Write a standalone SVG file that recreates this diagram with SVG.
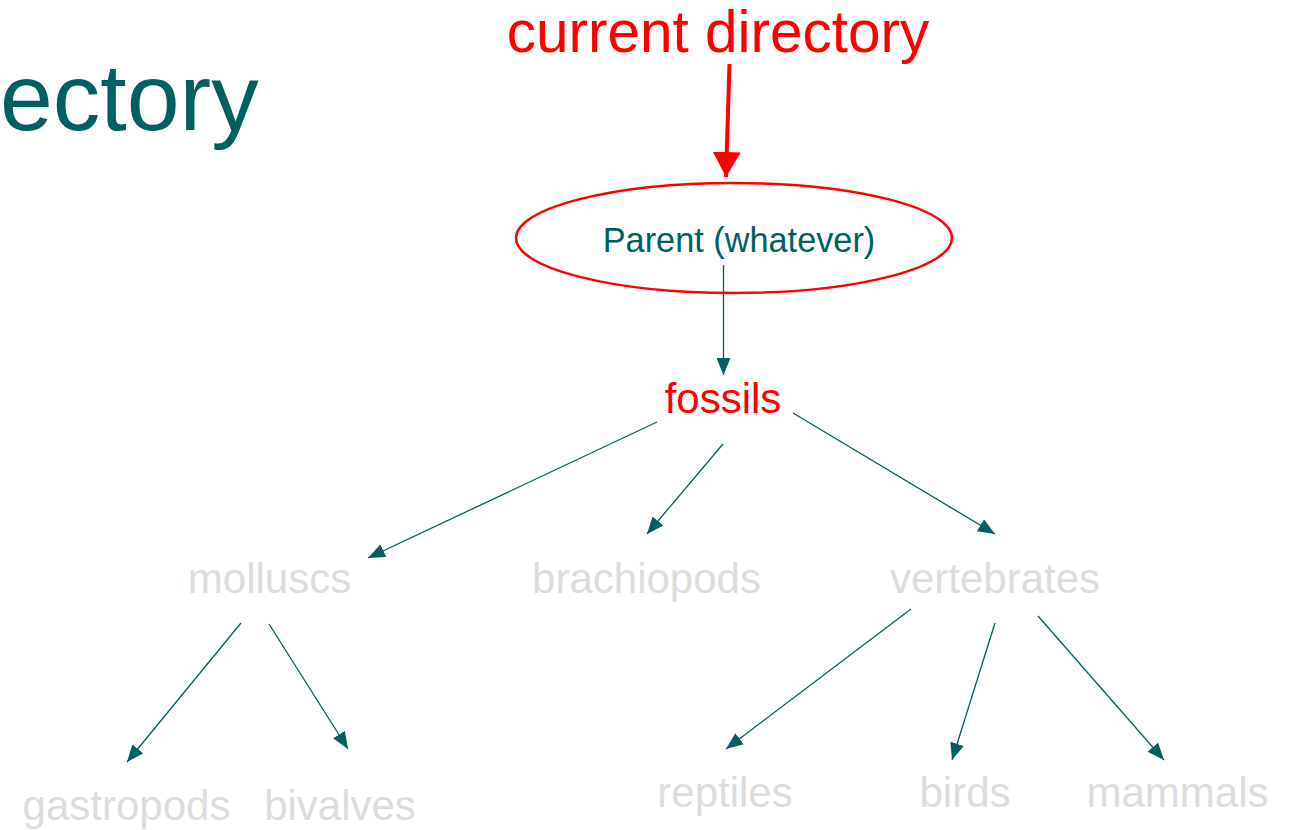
<svg xmlns="http://www.w3.org/2000/svg" width="1289" height="830" viewBox="0 0 1289 830">
<style>
  text { font-family: "Liberation Sans", Arial, sans-serif; }
  .teal { fill: #006060; }
  .red { fill: #ff0000; }
  .gray { fill: #dcdcdc; font-size: 42px; text-anchor: middle; }
  .conn { stroke: #006060; stroke-width: 1.3; fill: none; marker-end: url(#tealArrow); }
</style>
<defs>
  <marker id="tealArrow" markerUnits="userSpaceOnUse" markerWidth="18" markerHeight="14" refX="17" refY="7" orient="auto">
    <path d="M0,0 L17,7 L0,14 Z" fill="#006060"/>
  </marker>
  <marker id="redArrow" markerUnits="userSpaceOnUse" markerWidth="26" markerHeight="28" refX="25" refY="14" orient="auto">
    <path d="M0,0 L25,14 L0,28 Z" fill="#ff0000"/>
  </marker>
</defs>

<g id="title">
  <text x="0" y="130" font-size="95" class="teal">ectory</text>
</g>

<g id="current-directory">
  <text x="718" y="52" font-size="58.5" text-anchor="middle" class="red">current directory</text>
</g>

<g id="parent">
  <ellipse cx="734" cy="238" rx="218" ry="55" fill="none" stroke="#ff0000" stroke-width="2.5"/>
  <text x="739" y="252" font-size="34.3" text-anchor="middle" class="teal">Parent (whatever)</text>
</g>

<g id="fossils">
  <text x="723" y="413" font-size="42" text-anchor="middle" class="red">fossils</text>
</g>

<g id="molluscs"><text x="269.5" y="593" class="gray">molluscs</text></g>
<g id="brachiopods"><text x="646.5" y="593" class="gray">brachiopods</text></g>
<g id="vertebrates"><text x="995" y="593" class="gray">vertebrates</text></g>
<g id="gastropods"><text x="126.5" y="820" class="gray">gastropods</text></g>
<g id="bivalves"><text x="340" y="820" class="gray">bivalves</text></g>
<g id="reptiles"><text x="725" y="807" class="gray">reptiles</text></g>
<g id="birds"><text x="965" y="807" class="gray">birds</text></g>
<g id="mammals"><text x="1177.5" y="807" class="gray">mammals</text></g>

<g id="connectors">
  <line x1="729.5" y1="64" x2="726" y2="177" stroke="#ff0000" stroke-width="4" marker-end="url(#redArrow)"/>
  <line class="conn" x1="723.5" y1="265" x2="723.5" y2="375"/>
  <line class="conn" x1="657" y1="422" x2="368" y2="558"/>
  <line class="conn" x1="723" y1="444" x2="647" y2="534"/>
  <line class="conn" x1="793" y1="413" x2="995" y2="534"/>
  <line class="conn" x1="241" y1="623" x2="127" y2="762"/>
  <line class="conn" x1="269" y1="624" x2="348" y2="749"/>
  <line class="conn" x1="911" y1="609" x2="726" y2="749"/>
  <line class="conn" x1="995" y1="623" x2="952" y2="760"/>
  <line class="conn" x1="1038" y1="616" x2="1164" y2="760"/>
</g>
</svg>
